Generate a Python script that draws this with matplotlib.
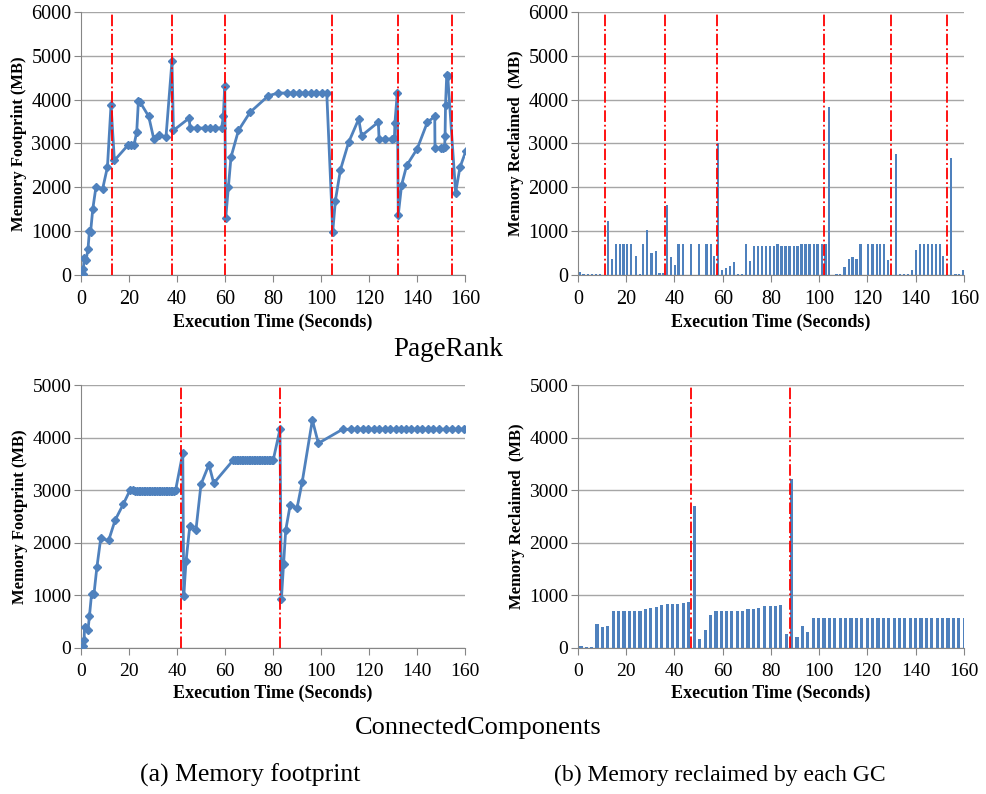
import matplotlib.pyplot as plt

plt.rcParams["font.family"] = ["Liberation Serif", "DejaVu Serif"]

LINE_BLUE = "#4F81BD"
GRID_GRAY = "#A6A6A6"

# PageRank: memory footprint (seconds, MB)
pr_time = [0.7, 1.0, 1.25, 2.1, 2.9, 3.5, 4.0, 4.9, 6.25, 9.0, 11.0, 12.5, 13.9,
           19.7, 20.8, 22.1, 23.2, 23.9, 24.6, 28.2, 30.3, 32.6, 35.4, 37.9, 38.5,
           45.1, 45.4, 48.2, 51.7, 53.8, 55.8, 58.6, 59.3, 59.9, 60.3, 61.4, 62.5,
           65.6, 70.4, 78.1, 82.2, 85.7, 88.5, 91.0, 93.3, 95.7, 97.9, 100.3, 102.4,
           104.9, 106.0, 108.1, 111.5, 115.7, 116.9, 123.9, 124.2, 126.7, 129.4,
           130.6, 130.8, 131.8, 132.2, 133.6, 135.7, 140.1, 144.3, 147.4, 147.5,
           149.9, 150.7, 151.5, 151.7, 151.9, 152.4, 152.8, 156.1, 157.9, 160.4]
pr_mem = [23, 130, 380, 340, 594, 1005, 990, 1508, 2017, 1965, 2460, 3880, 2612,
          2970, 2970, 2970, 3260, 3960, 3945, 3618, 3107, 3184, 3146, 4882, 3298,
          3580, 3351, 3351, 3351, 3351, 3351, 3351, 3618, 4318, 1295, 2003, 2689,
          3298, 3709, 4090, 4151, 4151, 4151, 4151, 4151, 4151, 4151, 4151, 4151,
          990, 1698, 2399, 3024, 3557, 3176, 3488, 3100, 3100, 3100,
          3123, 3465, 4151, 1371, 2056, 2498, 2879, 3481, 3618, 2894,
          2894, 2894, 2917, 3161, 3884, 4570, 4547, 1881, 2452, 2833]
pr_gc_line = [13.1, 38.1, 60.0, 104.4, 131.9, 154.4]

# PageRank: memory reclaimed per GC (seconds, MB)
pr_gc_time = [0.7, 2.3, 4.0, 5.7, 7.3, 9.0, 12.3, 13.95, 15.6, 17.3, 18.9, 20.4,
              22.1, 23.9, 25.6, 27.1, 28.7, 30.5, 32.2, 33.8, 35.2, 36.9, 38.5,
              40.2, 41.7, 43.4, 46.7, 50.0, 53.3, 55.0, 56.5, 58.1, 59.8, 61.5,
              63.1, 64.6, 66.3, 68.0, 69.6, 71.4, 73.1, 74.7, 76.4, 78.0, 79.7,
              81.2, 82.7, 84.4, 86.0, 87.7, 89.4, 91.0, 92.7, 94.3, 96.0, 97.7,
              99.3, 101.0, 102.6, 104.0, 107.2, 108.8, 110.5, 112.2, 113.8, 115.5,
              117.1, 120.4, 122.1, 123.8, 125.3, 126.9, 128.6, 131.9, 133.6, 135.2,
              136.9, 138.5, 140.2, 141.9, 143.5, 145.2, 146.8, 148.5, 150.1, 151.5,
              154.8, 156.5, 158.1, 159.8]
pr_gc_mem = [60, 20, 20, 20, 20, 20, 1230, 364, 699, 699, 699, 699,
             699, 425, 23, 714, 1025, 501, 547, 38, 38, 1595, 410,
             228, 699, 699, 699, 699, 699, 699, 425, 3022, 114, 160,
             205, 304, 23, 23, 699, 319, 653, 653, 653, 653, 653,
             653, 699, 653, 653, 653, 653, 653, 699, 699, 699, 699,
             699, 699, 699, 3827, 23, 23, 182, 364, 410, 364,
             699, 699, 699, 699, 699, 699, 342, 2764, 23, 23,
             23, 106, 577, 699, 699, 699, 699, 699, 699, 440,
             2665, 23, 23, 106]
pr_gc_vline = [11.05, 35.9, 57.6, 101.8, 129.8, 152.9]

# ConnectedComponents: memory footprint (seconds, MB)
cc_time = [0.7, 1.25, 1.5, 2.9, 3.5, 4.4, 5.4, 6.6, 8.2, 11.5, 14.2, 17.6, 20.4, 21.5,
           22.6, 23.3, 24.0, 24.7, 25.4, 26.1, 26.8, 27.5, 28.2, 28.9, 29.6, 30.3,
           31.0, 31.7, 32.4, 33.1, 33.8, 34.5, 35.2, 35.9, 36.6, 37.3, 38.0, 38.7,
           39.4, 42.4, 42.8, 43.75, 45.3, 47.9, 50.0, 53.3, 55.3, 63.5,
           64.2, 64.9, 65.6, 66.3, 67.0, 67.7, 68.4, 69.1, 69.8, 70.5, 71.2, 71.9,
           72.6, 73.3, 74.0, 74.7, 75.4, 76.1, 76.8, 77.5, 78.2, 78.9, 79.6, 80.1,
           82.9, 83.5, 84.4, 85.3, 87.2, 90.0, 92.2, 96.4, 98.9, 109.0,
           112.4, 114.8, 117.4, 119.7, 122.1, 124.3, 126.7, 128.8, 131.3, 133.2,
           135.4, 137.5, 139.9, 142.2, 144.4, 146.8, 149.3, 152.1, 154.4, 156.9, 159.7]
cc_mem = [44, 144, 406, 344, 606, 1031, 1031, 1531, 2082, 2044, 2430, 2734, 3000, 3000,
          2990, 2990, 2990, 2990, 2990, 2990, 2990, 2990, 2990, 2990, 2990, 2990,
          2990, 2990, 2990, 2990, 2990, 2990, 2990, 2990, 2990, 2990, 2990, 2990,
          3000, 3703, 994, 1646, 2310, 2247, 3114, 3487, 3133, 3576,
          3576, 3576, 3576, 3576, 3576, 3576, 3576, 3576, 3576, 3576, 3576, 3576,
          3576, 3576, 3576, 3576, 3576, 3576, 3576, 3576, 3576, 3576, 3576, 3576,
          4158, 930, 1595, 2241, 2728, 2658, 3165, 4335, 3892, 4158,
          4158, 4158, 4158, 4158, 4158, 4158, 4158, 4158, 4158, 4158,
          4158, 4158, 4158, 4158, 4158, 4158, 4158, 4158, 4158, 4158, 4158]
cc_gc_line = [41.7, 83.1]

# ConnectedComponents: memory reclaimed per GC (seconds, MB)
cc_gc_time = [1.25, 3.5, 5.7, 7.9, 10.0, 12.4, 14.6, 16.8, 19.1, 21.3, 23.5, 25.7,
              28.0, 30.2, 32.4, 34.8, 37.0, 39.2, 41.4, 43.7, 45.9, 48.3, 50.5, 52.7,
              54.9, 57.2, 59.4, 61.6, 63.8, 66.1, 68.3, 70.5, 72.7, 75.0, 77.5, 79.7,
              81.9, 84.1, 86.4, 88.6, 90.8, 93.0, 95.3, 97.6, 99.8, 102.0, 104.3,
              106.5, 108.7, 111.0, 113.2, 115.4, 117.7, 119.9, 122.1, 124.4, 126.6,
              128.8, 131.1, 133.3, 135.5, 137.8, 140.0, 142.2, 144.5, 146.7, 148.9,
              151.2, 153.4, 155.6, 157.9, 160.1]
cc_gc_mem = [44, 13, 25, 461, 391, 423, 694, 694, 694, 694, 694, 694,
             745, 764, 783, 808, 827, 840, 840, 859, 871, 2696, 177, 341,
             631, 694, 694, 694, 694, 694, 694, 732, 732, 764, 802, 802,
             802, 821, 265, 3220, 215, 423, 309, 568, 568, 568, 568,
             568, 568, 568, 568, 568, 568, 568, 568, 568, 568,
             568, 568, 568, 568, 568, 568, 568, 568, 568, 568,
             568, 568, 568, 568, 568]
cc_gc_vline = [46.7, 88.0]


def style_axis(ax, ymax, ylabel, ticksize):
    ax.set_xlim(0, 160)
    ax.set_ylim(0, ymax)
    ax.set_xticks(range(0, 161, 20))
    ax.set_yticks(range(0, ymax + 1, 1000))
    ax.grid(axis="y", color=GRID_GRAY, linewidth=1.0)
    ax.set_axisbelow(True)
    for side in ["top", "right"]:
        ax.spines[side].set_visible(False)
    for side in ["left", "bottom"]:
        ax.spines[side].set_color("#868686")
    ax.tick_params(axis="x", direction="out", length=5, color="#868686", labelsize=ticksize, pad=6)
    ax.tick_params(axis="y", direction="out", length=5, color="#868686", labelsize=ticksize, pad=2)
    ax.set_xlabel("Execution Time (Seconds)", fontsize=13, fontweight="bold", labelpad=3)
    ax.set_ylabel(ylabel, fontsize=12, fontweight="bold", labelpad=3)


def draw_line(ax, t, mem, gc_lines, ymax, ticksize):
    ax.plot(t, mem, color=LINE_BLUE, linewidth=2, marker="D", markersize=4.5,
            clip_on=True, zorder=3)
    for x in gc_lines:
        ax.axvline(x, color="red", linestyle="-.", linewidth=1.3, zorder=4)
    style_axis(ax, ymax, "Memory Footprint (MB)", ticksize)


def draw_bars(ax, t, mem, gc_lines, ymax, width, ticksize):
    ax.bar(t, mem, width=width, color=LINE_BLUE, zorder=3)
    for x in gc_lines:
        ax.axvline(x, color="red", linestyle="-.", linewidth=1.3, zorder=4)
    style_axis(ax, ymax, "Memory Reclaimed  (MB)", ticksize)


fig = plt.figure(figsize=(9.87, 7.94), dpi=100)
ax_pr_line = fig.add_axes([0.0821, 0.6537, 0.389, 0.3312])
ax_pr_bar = fig.add_axes([0.5856, 0.6537, 0.391, 0.3312])
ax_cc_line = fig.add_axes([0.0821, 0.1839, 0.389, 0.3312])
ax_cc_bar = fig.add_axes([0.5856, 0.1839, 0.391, 0.3312])

draw_line(ax_pr_line, pr_time, pr_mem, pr_gc_line, 6000, 14.5)
draw_bars(ax_pr_bar, pr_gc_time, pr_gc_mem, pr_gc_vline, 6000, 0.9, 14.5)
draw_line(ax_cc_line, cc_time, cc_mem, cc_gc_line, 5000, 14)
draw_bars(ax_cc_bar, cc_gc_time, cc_gc_mem, cc_gc_vline, 5000, 1.3, 14)

fig.text(448 / 987, 1 - 350 / 794, "PageRank", ha="center", va="center", fontsize=19.5)
fig.text(478 / 987, 1 - 728 / 794, "ConnectedComponents", ha="center", va="center", fontsize=19)
fig.text(250 / 987, 1 - 775 / 794, "(a) Memory footprint", ha="center", va="center", fontsize=18.5)
fig.text(720 / 987, 1 - 775 / 794, "(b) Memory reclaimed by each GC", ha="center", va="center", fontsize=17)

fig.savefig("out.png", dpi=100)
